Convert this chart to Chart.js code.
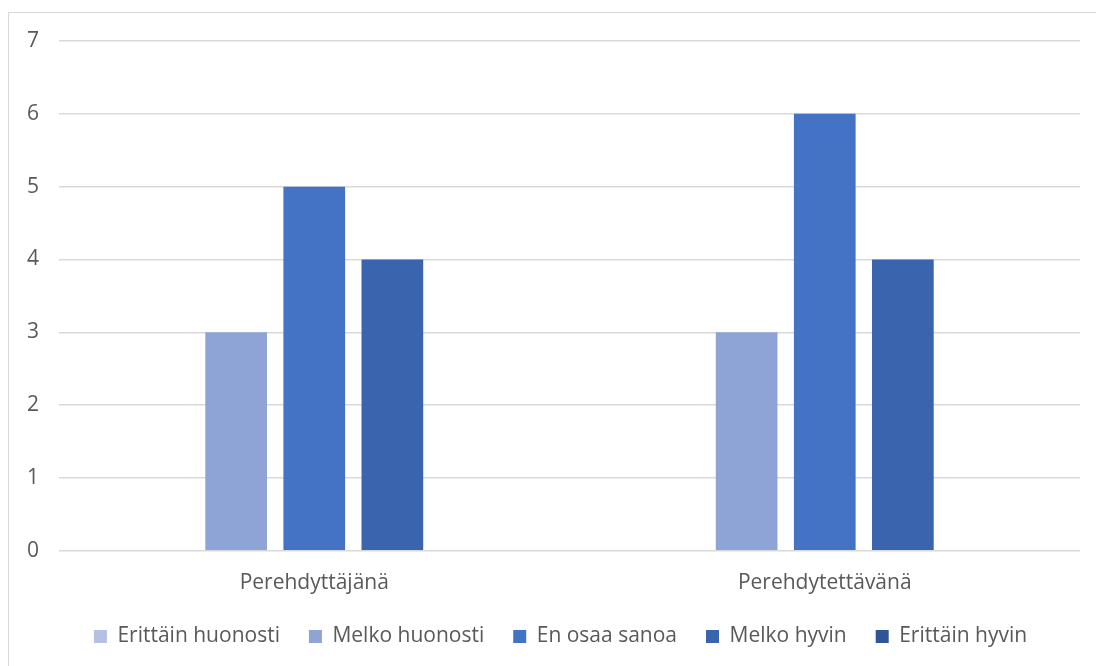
<!DOCTYPE html>
<html>
<head>
<meta charset="utf-8">
<script src="https://cdn.jsdelivr.net/npm/chart.js@4/dist/chart.umd.min.js"></script>
<style>
  html, body { margin: 0; padding: 0; background: #ffffff; }
  #wrap { position: relative; width: 1096px; height: 666px; }
</style>
</head>
<body>
<div id="wrap"><canvas id="chart" width="1096" height="666"></canvas></div>
<script>
// Categories and response counts per answer option
const categories = ['Perehdyttäjänä', 'Perehdytettävänä'];
const seriesNames = ['Erittäin huonosti', 'Melko huonosti', 'En osaa sanoa', 'Melko hyvin', 'Erittäin hyvin'];
const erittainHuonosti = [0, 0];
const melkoHuonosti = [3, 3];
const enOsaaSanoa = [5, 6];
const melkoHyvin = [4, 4];
const erittainHyvin = [0, 0];
const yTicks = [0, 1, 2, 3, 4, 5, 6, 7];

const seriesValues = [erittainHuonosti, melkoHuonosti, enOsaaSanoa, melkoHyvin, erittainHyvin];
const seriesColors = ['#b4c1e2', '#8fa4d6', '#4472c4', '#3a64ad', '#2f5597'];

const fontFamily = "'Open Sans', 'Noto Sans', sans-serif";
const textColor = '#595959';

// Thin frame around the chart area
const framePlugin = {
  id: 'frame',
  beforeDraw(chart) {
    const ctx = chart.ctx;
    ctx.save();
    ctx.strokeStyle = '#d9d9d9';
    ctx.lineWidth = 1;
    ctx.strokeRect(8.5, 12.5, 1200, 700);
    ctx.restore();
  }
};

// The legend keeps wide horizontal gaps between items; extend its box upwards
// so the large label padding does not push the row towards the bottom edge,
// and centre the row under the plot area.
const legendLift = 19;
const legendShift = 17;
const legendLiftPlugin = {
  id: 'legendLift',
  afterLayout(chart) {
    const lg = chart.legend;
    if (lg) {
      lg.top -= legendLift;
      lg.height += legendLift;
      lg.left += legendShift;
      lg.right += legendShift;
    }
  }
};

new Chart(document.getElementById('chart'), {
  type: 'bar',
  data: {
    labels: categories,
    datasets: seriesNames.map((name, i) => ({
      label: name,
      data: seriesValues[i],
      backgroundColor: seriesColors[i],
      borderWidth: 0
    }))
  },
  options: {
    responsive: false,
    animation: false,
    datasets: {
      bar: { categoryPercentage: 0.765, barPercentage: 0.79 }
    },
    layout: { padding: { left: 7, right: 16, top: 41, bottom: 10 } },
    plugins: {
      legend: {
        position: 'bottom',
        maxHeight: 40,
        labels: {
          boxWidth: 13,
          boxHeight: 13,
          padding: 29,
          color: textColor,
          font: { family: fontFamily, size: 21 }
        }
      },
      tooltip: { enabled: false }
    },
    scales: {
      x: {
        grid: { display: false, drawTicks: false },
        border: { display: false },
        ticks: { color: textColor, font: { family: fontFamily, size: 21 }, padding: 20 }
      },
      y: {
        min: 0,
        max: 7,
        afterBuildTicks(axis) { axis.ticks = yTicks.map(v => ({ value: v })); },
        grid: { color: '#d9d9d9', lineWidth: 1.5, drawTicks: false },
        border: { display: false },
        ticks: { color: textColor, font: { family: fontFamily, size: 21 }, padding: 20 }
      }
    }
  },
  plugins: [framePlugin, legendLiftPlugin]
});
</script>
</body>
</html>
